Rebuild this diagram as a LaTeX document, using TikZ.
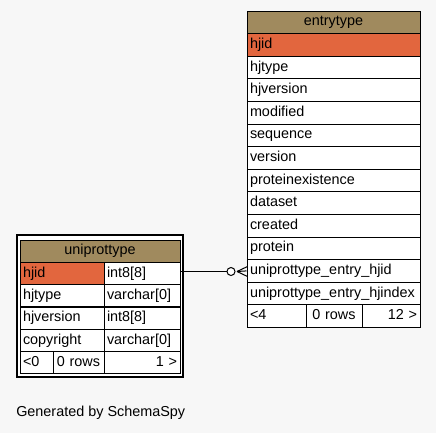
\documentclass[tikz,border=0pt]{standalone}
\usepackage{fontspec}
\setmainfont{Liberation Sans}
\usepackage{xcolor}
\usetikzlibrary{positioning}
\definecolor{headbg}{HTML}{A08A5E}
\definecolor{keybg}{HTML}{E2663E}
\definecolor{pagebg}{HTML}{F7F7F7}
\tikzset{
  cell/.style={rectangle, draw=black, line width=0.75pt, fill=white, inner xsep=2.25pt, inner ysep=0pt,
    text height=7.6pt, text depth=2.3pt, align=left},
  ecell/.style={cell, text width=125.25pt, minimum height=16.95pt},
  ucell/.style={cell, minimum height=16.75pt},
  headcell/.style={fill=headbg, align=center},
}
\begin{document}
\begin{tikzpicture}[x=0.75pt,y=-0.75pt,font=\fontsize{10.8pt}{13pt}\selectfont]
			\fill[pagebg] (0,0) rectangle (436,433);
			\useasboundingbox (0,0) rectangle (436,433);
			% entrytype
			\node[ecell, headcell] (etitle) at (333.5,22.3) {entrytype};
			\node[ecell, fill=keybg] (ehjid) at (333.5,44.9) {hjid};
			\node[ecell] (ehjtype) at (333.5,67.5) {hjtype};
			\node[ecell] (ehjversion) at (333.5,90.1) {hjversion};
			\node[ecell] (emodified) at (333.5,112.7) {modified};
			\node[ecell] (esequence) at (333.5,135.3) {sequence};
			\node[ecell] (eversion) at (333.5,157.9) {version};
			\node[ecell] (eexist) at (333.5,180.5) {proteinexistence};
			\node[ecell] (edataset) at (333.5,203.1) {dataset};
			\node[ecell] (ecreated) at (333.5,225.7) {created};
			\node[ecell] (eprotein) at (333.5,248.3) {protein};
			\node[ecell] (efk) at (333.5,270.9) {uniprottype\_entry\_hjid};
			\node[ecell] (eindex) at (333.5,293.5) {uniprottype\_entry\_hjindex};
			\node[cell, text width=39.75pt, minimum height=16.95pt] (eparents) at (276.5,316.1) {<4};
			\node[cell, text width=37.5pt, minimum height=16.95pt, align=center] (erows) at (334,316.1) {0 rows};
			\node[cell, text width=39pt, minimum height=16.95pt, align=right] (echildren) at (391,316.1) {12 >};
			% uniprottype
			\node[draw, line width=1.5pt, fill=white, minimum width=124.3pt, minimum height=106.3pt, inner sep=0pt] (uframe) at (99.85,305.85) {};
			\node[ucell, headcell, text width=115.5pt] (utitle) at (100,251.2) {uniprottype};
			\node[ucell, text width=58.5pt, fill=keybg] (uhjid) at (62,273.5) {hjid};
			\node[ucell, text width=52.5pt] (uhjidt) at (142,273.5) {int8[8]};
			\node[ucell, text width=58.5pt] (uhjtype) at (62,295.8) {hjtype};
			\node[ucell, text width=52.5pt] (uhjtypet) at (142,295.8) {varchar[0]};
			\node[ucell, text width=58.5pt] (uhjversion) at (62,318.2) {hjversion};
			\node[ucell, text width=52.5pt] (uhjversiont) at (142,318.2) {int8[8]};
			\node[ucell, text width=58.5pt] (ucopyright) at (62,340.5) {copyright};
			\node[ucell, text width=52.5pt] (ucopyrightt) at (142,340.5) {varchar[0]};
			\node[ucell, text width=20.25pt] (uparents) at (36.5,362.8) {<0};
			\node[ucell, text width=33.75pt, align=center] (urows) at (78.5,362.8) {0 rows};
			\node[ucell, text width=52.5pt, align=right] (uchildren) at (142,362.8) {1 >};
			% relation
			\node[circle, draw, fill=white, line width=0.75pt, minimum size=6pt, inner sep=0pt] (ring) at (231,271.5) {};
			\coordinate (foot) at (237,271.5);
			\coordinate (footup) at (247.5,266.5);
			\coordinate (footdown) at (247.5,276.5);
			\draw[line width=0.75pt] (ring.west) -- (ring.west -| uhjidt.east);
			\draw[line width=0.75pt] (foot) -- (footup);
			\draw[line width=0.75pt] (foot) -- (efk.west);
			\draw[line width=0.75pt] (foot) -- (footdown);
			\node[anchor=west, inner sep=0pt] (generated) at (16,413) {Generated by SchemaSpy};
		\end{tikzpicture}
\end{document}
